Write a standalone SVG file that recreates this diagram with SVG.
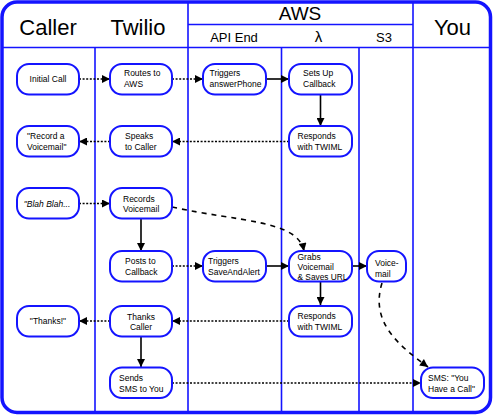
<svg xmlns="http://www.w3.org/2000/svg" width="493" height="415" viewBox="0 0 493 415">
<style>
.lane{stroke:#1414ff;stroke-width:1.6;fill:none}
.nd rect{fill:#fff;stroke:#1414ff;stroke-width:2}
.nd text{font-family:"Liberation Sans",Arial,sans-serif;font-size:8.5px;fill:#000}
.hd{font-family:"Liberation Sans",Arial,sans-serif;fill:#000;text-anchor:middle}
.c{stroke:#000;stroke-width:1.6;fill:none}
.dot{stroke-dasharray:2 1.6}
.dash{stroke-dasharray:5 5}
.m{text-anchor:middle}
</style>
<defs>
<marker id="ah" viewBox="0 0 10 10" refX="10" refY="5" markerWidth="9" markerHeight="8" markerUnits="userSpaceOnUse" orient="auto"><path d="M0,0 L10,5 L0,10 z" fill="#000"/></marker>
</defs>
<rect width="493" height="415" fill="#fff"/>
<g id="lanes">
<rect x="2" y="2" width="488.5" height="410.5" rx="15" class="lane" style="stroke-width:3.5"/>
<line x1="2" y1="47.5" x2="490" y2="47.5" class="lane"/>
<line x1="188" y1="24.5" x2="413" y2="24.5" class="lane"/>
<line x1="95" y1="47.5" x2="95" y2="412" class="lane"/>
<line x1="188" y1="2" x2="188" y2="412" class="lane"/>
<line x1="281.5" y1="47.5" x2="281.5" y2="412" class="lane"/>
<line x1="359" y1="47.5" x2="359" y2="412" class="lane"/>
<line x1="413" y1="2" x2="413" y2="412" class="lane"/>
<text x="48" y="35" class="hd" font-size="22">Caller</text>
<text x="138" y="35" class="hd" font-size="22">Twilio</text>
<text x="300" y="20" class="hd" font-size="19">AWS</text>
<text x="234" y="42" class="hd" font-size="13">API End</text>
<text x="318.5" y="42" class="hd" font-size="15">λ</text>
<text x="384" y="42" class="hd" font-size="13">S3</text>
<text x="452.5" y="35" class="hd" font-size="22">You</text>
</g>
<g id="connectors">
<line x1="79" y1="79" x2="110" y2="79" class="c dot" marker-end="url(#ah)"/>
<line x1="172" y1="79" x2="203" y2="79" class="c dot" marker-end="url(#ah)"/>
<line x1="266" y1="79" x2="289" y2="79" class="c" marker-end="url(#ah)"/>
<line x1="320.5" y1="94" x2="320.5" y2="126" class="c" marker-end="url(#ah)"/>
<line x1="289" y1="141.5" x2="172" y2="141.5" class="c dot" marker-end="url(#ah)"/>
<line x1="110" y1="141.5" x2="79" y2="141.5" class="c dot" marker-end="url(#ah)"/>
<line x1="79" y1="203.5" x2="110" y2="203.5" class="c dot" marker-end="url(#ah)"/>
<path d="M172,207 C240,222 298,220 304,251" class="c dash" marker-end="url(#ah)"/>
<line x1="141" y1="219" x2="141" y2="251" class="c" marker-end="url(#ah)"/>
<line x1="172" y1="266" x2="203" y2="266" class="c dot" marker-end="url(#ah)"/>
<line x1="266" y1="266" x2="289" y2="266" class="c" marker-end="url(#ah)"/>
<line x1="352" y1="266" x2="367" y2="266" class="c" marker-end="url(#ah)"/>
<line x1="320.5" y1="282" x2="320.5" y2="305" class="c" marker-end="url(#ah)"/>
<line x1="289" y1="321" x2="172" y2="321" class="c dot" marker-end="url(#ah)"/>
<line x1="110" y1="321" x2="79" y2="321" class="c dot" marker-end="url(#ah)"/>
<line x1="141" y1="337" x2="141" y2="367" class="c" marker-end="url(#ah)"/>
<line x1="172" y1="383" x2="421" y2="383" class="c dot" marker-end="url(#ah)"/>
<path d="M382,283 C370,322 398,345 428,367" class="c dash" marker-end="url(#ah)"/>
</g>
<g id="n-initial" class="nd"><rect x="17" y="64" width="62" height="30.5" rx="12"/><text x="48" y="82" class="m">Initial Call</text></g>
<g id="n-routes" class="nd"><rect x="110" y="64" width="62" height="30.5" rx="12"/><text x="124" y="76">Routes to</text><text x="124" y="87">AWS</text></g>
<g id="n-answer" class="nd"><rect x="203" y="64" width="63" height="30.5" rx="12"/><text x="209.5" y="76">Triggers</text><text x="209.5" y="87">answerPhone</text></g>
<g id="n-setup" class="nd"><rect x="289" y="64" width="63" height="30.5" rx="12"/><text x="303" y="76">Sets Up</text><text x="303" y="87">Callback</text></g>
<g id="n-record" class="nd"><rect x="17" y="126" width="62" height="30.5" rx="12"/><text x="27" y="139">"Record a</text><text x="27" y="149.5">Voicemail"</text></g>
<g id="n-speaks" class="nd"><rect x="110" y="126" width="62" height="30.5" rx="12"/><text x="125" y="139">Speaks</text><text x="125" y="149.5">to Caller</text></g>
<g id="n-resp1" class="nd"><rect x="289" y="126" width="63" height="30.5" rx="12"/><text x="297.5" y="139">Responds</text><text x="297.5" y="149.5">with TWIML</text></g>
<g id="n-blah" class="nd"><rect x="17" y="188" width="62" height="30.5" rx="12"/><text x="47" y="206.5" class="m" font-style="italic">"Blah Blah...</text></g>
<g id="n-records" class="nd"><rect x="110" y="188" width="62" height="30.5" rx="12"/><text x="123" y="201.5">Records</text><text x="123" y="212">Voicemail</text></g>
<g id="n-posts" class="nd"><rect x="110" y="251" width="62" height="30.5" rx="12"/><text x="125" y="264">Posts to</text><text x="125" y="275">Callback</text></g>
<g id="n-save" class="nd"><rect x="203" y="251" width="63" height="30.5" rx="12"/><text x="208" y="264">Triggers</text><text x="208" y="275">SaveAndAlert</text></g>
<g id="n-grabs" class="nd"><rect x="289" y="251" width="63" height="30.5" rx="12"/><text x="297.5" y="259.5">Grabs</text><text x="297.5" y="269.5">Voicemail</text><text x="297.5" y="280" textLength="50" lengthAdjust="spacingAndGlyphs">&amp; Saves URL</text></g>
<g id="n-vm" class="nd"><rect x="367" y="251" width="39" height="30.5" rx="12"/><text x="375" y="266">Voice-</text><text x="375" y="276.5">mail</text></g>
<g id="n-thanks" class="nd"><rect x="17" y="306" width="62" height="30.5" rx="12"/><text x="48" y="324" class="m">"Thanks!"</text></g>
<g id="n-thanksc" class="nd"><rect x="110" y="306" width="62" height="30.5" rx="12"/><text x="141" y="319.5" class="m">Thanks</text><text x="141" y="330" class="m">Caller</text></g>
<g id="n-resp2" class="nd"><rect x="289" y="306" width="63" height="30.5" rx="12"/><text x="297.5" y="319">Responds</text><text x="297.5" y="330">with TWIML</text></g>
<g id="n-sends" class="nd"><rect x="110" y="367.5" width="62" height="30.5" rx="12"/><text x="119" y="381">Sends</text><text x="119" y="391.5">SMS to You</text></g>
<g id="n-sms" class="nd"><rect x="421" y="367.5" width="63" height="30.5" rx="12"/><text x="428" y="381">SMS: "You</text><text x="428" y="391.5">Have a Call"</text></g>
</svg>
